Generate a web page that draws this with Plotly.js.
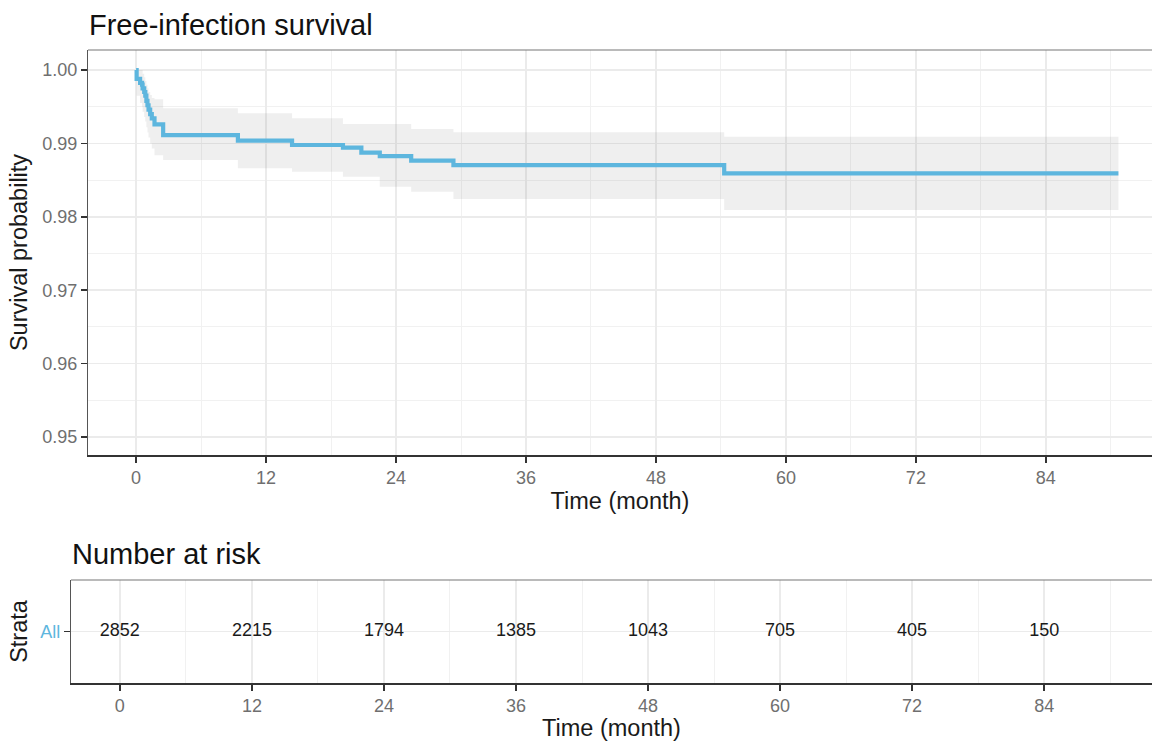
<!DOCTYPE html>
<html>
<head>
<meta charset="utf-8">
<script src="https://cdn.plot.ly/plotly-3.0.1.min.js"></script>
<style>html,body{margin:0;padding:0;background:#fff;}#chart{width:1152px;height:741px;}</style>
</head>
<body>
<div id="chart"></div>
<script>
// Kaplan-Meier step curve (months, survival probability)
const months   = [0, 0.05, 0.37, 0.55, 0.6, 0.75, 0.85, 0.95, 1.05, 1.15, 1.3, 1.45, 1.7, 2.5, 9.4, 14.4, 19.1, 20.8, 22.5, 25.4, 29.3, 54.3, 90.7];
const survival = [1.0, 0.9988, 0.99825, 0.9980, 0.9975, 0.9970, 0.9965, 0.9958, 0.9952, 0.9946, 0.9940, 0.9934, 0.9926, 0.99114, 0.99037, 0.98978, 0.98942, 0.98874, 0.98828, 0.98765, 0.98705, 0.98593, 0.98593];
const upperCI  = [1.0, 1.0, 1.0, 1.0, 0.9995, 0.9990, 0.9985, 0.9980, 0.9975, 0.9970, 0.9966, 0.9962, 0.9960, 0.99478, 0.9941, 0.99342, 0.99264, 0.99264, 0.99264, 0.99196, 0.99151, 0.99091, 0.99091];
const lowerCI  = [1.0, 0.9965, 0.9955, 0.9950, 0.9943, 0.9936, 0.9930, 0.9922, 0.9915, 0.9908, 0.9900, 0.9893, 0.9884, 0.98774, 0.98661, 0.98615, 0.98546, 0.98546, 0.9841, 0.98342, 0.98243, 0.98093, 0.98093];

// Number at risk table
const riskTimes  = [0, 12, 24, 36, 48, 60, 72, 84];
const riskCounts = [2852, 2215, 1794, 1385, 1043, 705, 405, 150];
const strataLabels = ['All'];

const W = 1152, H = 741;
const curveColor = '#5DB6DE';
const font = 'Liberation Sans, Arial, Helvetica, sans-serif';

const traces = [
  {x: months, y: lowerCI, type: 'scatter', mode: 'lines', line: {shape: 'hv', width: 0, color: 'rgba(0,0,0,0)'},
   xaxis: 'x', yaxis: 'y', hoverinfo: 'skip', showlegend: false},
  {x: months, y: upperCI, type: 'scatter', mode: 'lines', line: {shape: 'hv', width: 0, color: 'rgba(0,0,0,0)'},
   fill: 'tonexty', fillcolor: 'rgba(120,120,120,0.12)', xaxis: 'x', yaxis: 'y', hoverinfo: 'skip', showlegend: false},
  {x: months, y: survival, type: 'scatter', mode: 'lines', line: {shape: 'hv', width: 4.2, color: curveColor},
   xaxis: 'x', yaxis: 'y', name: 'All', showlegend: false},
  {x: riskTimes, y: riskTimes.map(() => strataLabels[0]), type: 'scatter', mode: 'text',
   text: riskCounts.map(String), textfont: {family: font, size: 18, color: '#1a1a1a'},
   xaxis: 'x2', yaxis: 'y2', hoverinfo: 'skip', showlegend: false}
];

const gridMajor = '#EBEBEB', gridMinor = '#F1F1F1';
function xAxis(domain, anchor) {
  return {
    domain: domain, anchor: anchor, range: [-4.44, 93.8],
    tick0: 0, dtick: 12, ticks: 'outside', ticklen: 6, tickwidth: 1.5, tickcolor: '#333',
    tickfont: {family: font, size: 18, color: '#6f6f6f'},
    showgrid: true, gridcolor: gridMajor, gridwidth: 1.6,
    minor: {tick0: 0, dtick: 6, showgrid: true, gridcolor: gridMinor, gridwidth: 1, ticks: ''},
    showline: true, linecolor: '#333', linewidth: 1.6, zeroline: false,
    title: {text: 'Time (month)', font: {family: font, size: 23.5, color: '#1a1a1a'}, standoff: 5}
  };
}

const layout = {
  width: W, height: H,
  margin: {l: 0, r: 0, t: 0, b: 0, pad: 0},
  paper_bgcolor: '#ffffff', plot_bgcolor: '#ffffff',
  font: {family: font},
  showlegend: false,
  xaxis: xAxis([88 / W, 1], 'y'),
  yaxis: {
    domain: [1 - 455 / H, 1 - 50 / H], anchor: 'x', range: [0.947548, 1.002725],
    tick0: 0.95, dtick: 0.01, tickformat: '.2f',
    ticks: 'outside', ticklen: 6, tickwidth: 1.5, tickcolor: '#333',
    tickfont: {family: font, size: 18, color: '#6f6f6f'},
    showgrid: true, gridcolor: gridMajor, gridwidth: 1.6,
    minor: {tick0: 0.95, dtick: 0.005, showgrid: true, gridcolor: gridMinor, gridwidth: 1, ticks: ''},
    showline: true, linecolor: '#555', linewidth: 1.2, zeroline: false,
    title: {text: 'Survival probability', font: {family: font, size: 23.5, color: '#1a1a1a'}, standoff: 8}
  },
  xaxis2: xAxis([71 / W, 1], 'y2'),
  yaxis2: {
    domain: [1 - 683 / H, 1 - 580 / H], anchor: 'x2', type: 'category',
    categoryarray: strataLabels,
    ticks: 'outside', ticklen: 6, tickwidth: 1.5, tickcolor: '#333',
    tickfont: {family: font, size: 18, color: curveColor},
    showgrid: true, gridcolor: gridMajor, gridwidth: 1.6,
    showline: true, linecolor: '#555', linewidth: 1.2, zeroline: false,
    title: {text: 'Strata', font: {family: font, size: 23.5, color: '#1a1a1a'}, standoff: 6}
  },
  shapes: [
    {type: 'line', xref: 'paper', yref: 'paper', x0: 88 / W, x1: 1, y0: 1 - 50 / H, y1: 1 - 50 / H, line: {color: '#777', width: 1.2}},
    {type: 'line', xref: 'paper', yref: 'paper', x0: 71 / W, x1: 1, y0: 1 - 580 / H, y1: 1 - 580 / H, line: {color: '#777', width: 1.2}}
  ],
  annotations: [
    {text: 'Free-infection survival', xref: 'paper', yref: 'paper', x: 87 / W, y: 1 - 25 / H,
     xanchor: 'left', yanchor: 'middle', showarrow: false, font: {family: font, size: 29, color: '#111'}},
    {text: 'Number at risk', xref: 'paper', yref: 'paper', x: 70 / W, y: 1 - 554 / H,
     xanchor: 'left', yanchor: 'middle', showarrow: false, font: {family: font, size: 29, color: '#111'}}
  ]
};

Plotly.newPlot('chart', traces, layout, {displayModeBar: false, staticPlot: true});
</script>
</body>
</html>
